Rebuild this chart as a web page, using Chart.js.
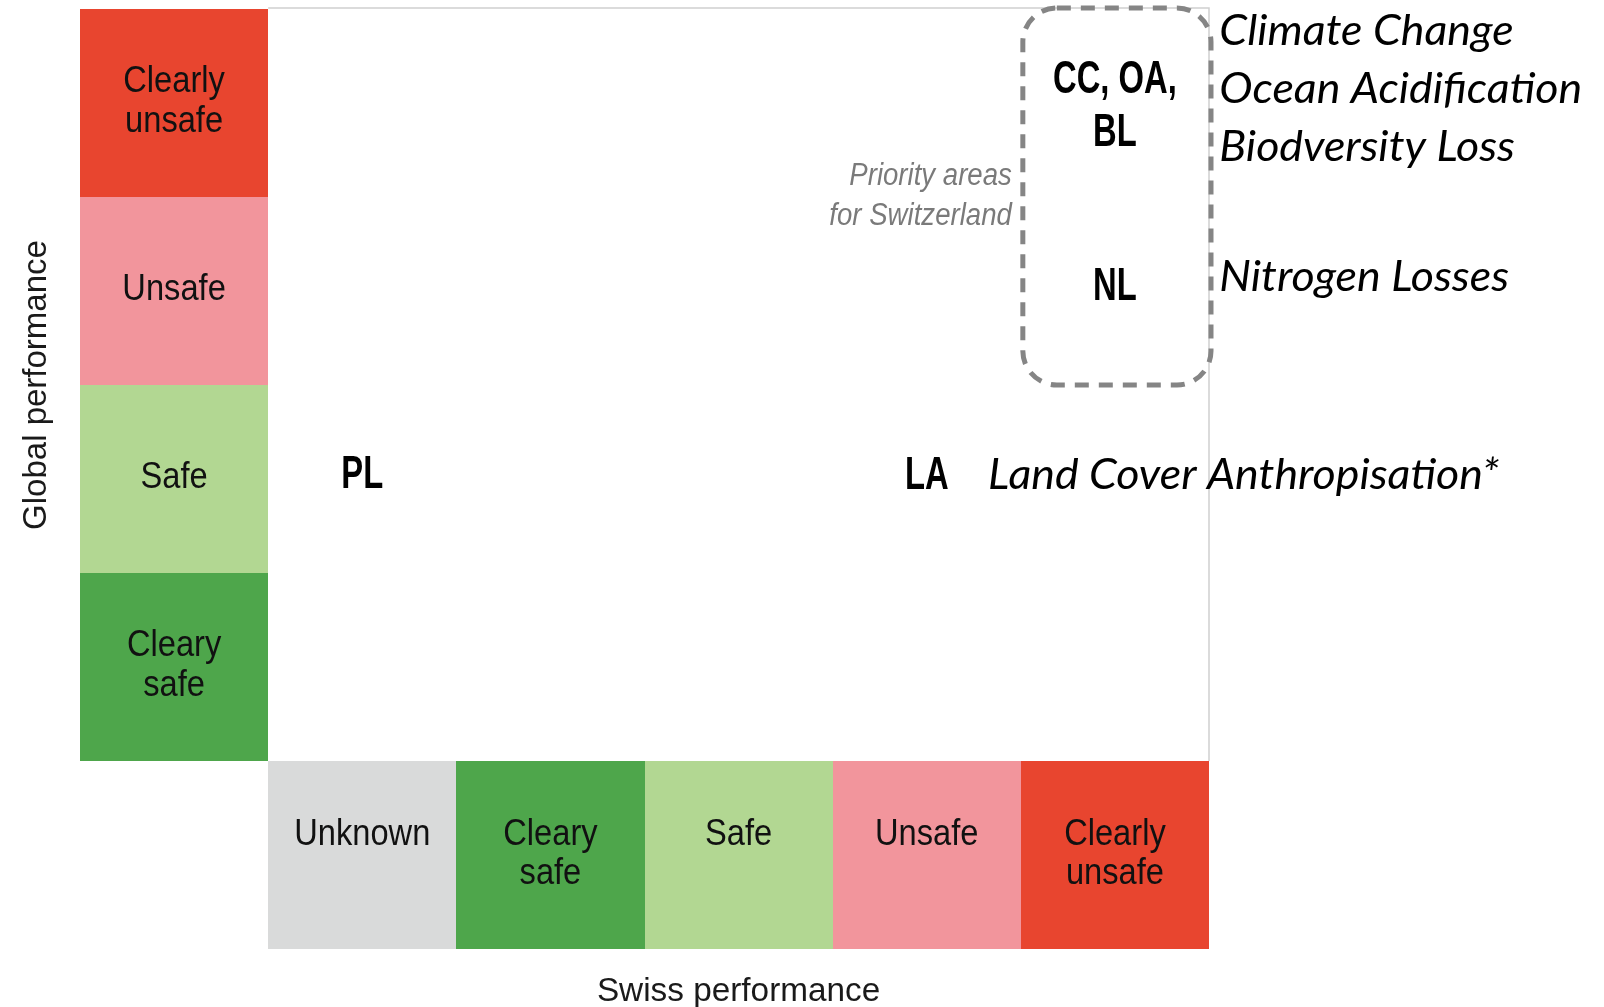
<!DOCTYPE html>
<html><head><meta charset="utf-8">
<script src="https://cdn.jsdelivr.net/npm/chart.js@4.4.0/dist/chart.umd.min.js"></script>
<style>html,body{margin:0;padding:0;background:#fff;overflow:hidden}</style>
</head><body><canvas id="c" width="1604" height="1007"></canvas>
<script>
// ---- data ----
const swissLevels = ['Unknown', 'Cleary\nsafe', 'Safe', 'Unsafe', 'Clearly\nunsafe'];
const swissColors = ['#d9dada', '#4ea64b', '#b2d792', '#f2959c', '#e8452f'];
const globalLevels = ['Cleary\nsafe', 'Safe', 'Unsafe', 'Clearly\nunsafe'];
const globalColors = ['#4ea64b', '#b2d792', '#f2959c', '#e8452f'];

const codeLabels = ['PL', 'LA', 'CC, OA,\nBL', 'NL'];
const codeSwiss = [0.5, 3.5, 4.5, 4.5];
const codeGlobal = [1.54, 1.535, 3.5, 2.54];

const nameLabels = ['Climate Change', 'Ocean Acidification', 'Biodversity Loss', 'Nitrogen Losses', 'Land Cover Anthropisation*'];
const nameSwiss = [5.055, 5.055, 5.055, 5.055, 3.825];
const nameGlobal = [3.89, 3.585, 3.275, 2.58, 1.53];

const priorityBox = [4, 5, 2, 4]; // swiss from, swiss to, global from, global to
const priorityNote = ['Priority areas', 'for Switzerland'];
const priorityNoteGlobal = [3.125, 2.912];

const xTitle = 'Swiss performance';
const yTitle = 'Global performance';

// ---- drawing helpers ----
function drawLines(ctx, lines, x, capCenters, size, scaleX, scaleY) {
  lines.forEach((t, i) => {
    ctx.save();
    ctx.translate(x, capCenters[i] + size * 0.358 * (scaleY || 1));
    ctx.scale(scaleX || 1, scaleY || 1);
    ctx.fillText(t, 0, 0);
    ctx.restore();
  });
}

const gridPlugin = {
  id: 'grid',
  beforeDatasetsDraw(chart) {
    const ctx = chart.ctx, xs = chart.scales.x, ys = chart.scales.y;
    ctx.save();
    // frame (top & right)
    ctx.strokeStyle = '#d0d0d0';
    ctx.lineWidth = 1.5;
    ctx.beginPath();
    ctx.moveTo(xs.getPixelForValue(0), ys.getPixelForValue(4) - 1);
    ctx.lineTo(xs.getPixelForValue(5), ys.getPixelForValue(4) - 1);
    ctx.lineTo(xs.getPixelForValue(5), ys.getPixelForValue(0));
    ctx.stroke();
    // swiss band
    swissLevels.forEach((lab, i) => {
      const x0 = Math.round(xs.getPixelForValue(i)), x1 = Math.round(xs.getPixelForValue(i + 1));
      const y0 = Math.round(ys.getPixelForValue(0)), y1 = Math.round(ys.getPixelForValue(-1));
      ctx.fillStyle = swissColors[i];
      ctx.fillRect(x0, y0, x1 - x0, y1 - y0);
    });
    globalLevels.forEach((lab, j) => {
      const x0 = Math.round(xs.getPixelForValue(-1)), x1 = Math.round(xs.getPixelForValue(0));
      const y0 = Math.round(ys.getPixelForValue(j + 1)), y1 = Math.round(ys.getPixelForValue(j));
      ctx.fillStyle = globalColors[j];
      ctx.fillRect(x0, y0, x1 - x0, y1 - y0);
    });
    // labels in cells
    ctx.fillStyle = '#111';
    ctx.textAlign = 'center';
    ctx.font = '34px "Liberation Sans", Arial, sans-serif';
    const lh = 39;
    swissLevels.forEach((lab, i) => {
      const cx = xs.getPixelForValue(i + 0.5), cy = ys.getPixelForValue(-0.5) - 3;
      const lines = lab.split('\n');
      drawLines(ctx, lines, cx, lines.map((_, k) => cy - lh / 2 + k * lh), 34, 0.96, 1.06);
    });
    globalLevels.forEach((lab, j) => {
      const cx = xs.getPixelForValue(-0.5), cy = ys.getPixelForValue(j + 0.5) - 4;
      const lines = lab.split('\n');
      const n = lines.length;
      drawLines(ctx, lines, cx, lines.map((_, k) => cy - (n - 1) * 40 / 2 + k * 40), 34, 0.96, 1.06);
    });
    // axis titles
    ctx.fillStyle = '#1a1a1a';
    ctx.font = '33px "Liberation Sans", Arial, sans-serif';
    drawLines(ctx, [xTitle], xs.getPixelForValue(2.5), [ys.getPixelForValue(-1) + 40], 33, 1.01);
    ctx.save();
    ctx.translate(xs.getPixelForValue(-1) - 46, ys.getPixelForValue(2));
    ctx.rotate(-Math.PI / 2);
    drawLines(ctx, [yTitle], 0, [0], 33, 1.0);
    ctx.restore();
    ctx.restore();
  },
  afterDatasetsDraw(chart) {
    const ctx = chart.ctx, xs = chart.scales.x, ys = chart.scales.y;
    ctx.save();
    // priority box
    const bx0 = xs.getPixelForValue(priorityBox[0]), bx1 = xs.getPixelForValue(priorityBox[1]);
    const by0 = ys.getPixelForValue(priorityBox[3]), by1 = ys.getPixelForValue(priorityBox[2]);
    ctx.strokeStyle = '#858585';
    ctx.lineWidth = 5;
    ctx.setLineDash([14, 10]);
    ctx.beginPath();
    ctx.roundRect(bx0 + 2, by0 - 1, bx1 - bx0, by1 - by0 + 1, 34);
    ctx.stroke();
    ctx.setLineDash([]);
    // priority note
    ctx.fillStyle = '#7a7a7a';
    ctx.textAlign = 'right';
    ctx.font = 'italic 31px "Liberation Sans", Arial, sans-serif';
    drawLines(ctx, priorityNote, bx0 - 9, priorityNoteGlobal.map(v => ys.getPixelForValue(v)), 31, 0.89);
    // codes
    ctx.fillStyle = '#000';
    ctx.textAlign = 'center';
    ctx.font = 'bold 42px "Liberation Sans", Arial, sans-serif';
    chart.getDatasetMeta(0).data.forEach((el, i) => {
      const lines = codeLabels[i].split('\n');
      const n = lines.length;
      drawLines(ctx, lines, el.x, lines.map((_, k) => el.y - (n - 1) * 53 / 2 + k * 53), 42, 0.78, 1.08);
    });
    // names
    ctx.textAlign = 'left';
    ctx.font = 'italic 43px Lato, "Open Sans", sans-serif';
    chart.getDatasetMeta(1).data.forEach((el, i) => {
      ctx.save();
      ctx.translate(el.x, el.y + 43 * 0.36);
      ctx.scale(1.04, 1);
      ctx.fillText(nameLabels[i], 0, 0);
      ctx.restore();
    });
    ctx.restore();
  }
};

new Chart(document.getElementById('c'), {
  type: 'scatter',
  data: {
    datasets: [
      { label: 'codes', data: codeSwiss.map((x, i) => ({ x, y: codeGlobal[i] })), pointRadius: 0 },
      { label: 'names', data: nameSwiss.map((x, i) => ({ x, y: nameGlobal[i] })), pointRadius: 0 }
    ]
  },
  options: {
    responsive: false,
    animation: false,
    devicePixelRatio: 1,
    events: [],
    layout: { padding: { left: 80, right: 395, top: 9, bottom: 58 } },
    plugins: { legend: { display: false }, tooltip: { enabled: false }, title: { display: false } },
    scales: {
      x: { type: 'linear', min: -1, max: 5, display: false },
      y: { type: 'linear', min: -1, max: 4, display: false }
    }
  },
  plugins: [gridPlugin]
});
</script>
</body></html>
